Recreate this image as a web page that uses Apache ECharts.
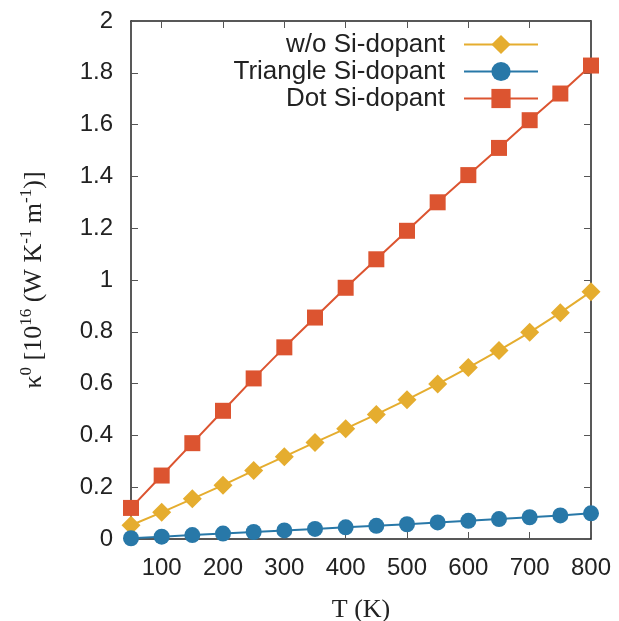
<!DOCTYPE html>
<html>
<head>
<meta charset="utf-8">
<script src="https://cdn.jsdelivr.net/npm/echarts@6/dist/echarts.min.js"></script>
<style>
  html, body { margin: 0; padding: 0; background: #fff; }
  #chart { width: 619px; height: 621px; }
</style>
</head>
<body>
<div id="chart"></div>
<script>
// temperatures (K)
const temps = [50, 100, 150, 200, 250, 300, 350, 400, 450, 500, 550, 600, 650, 700, 750, 800]
// kappa0, 10^16 W K^-1 m^-1
const woSi = [0.053, 0.103, 0.155, 0.208, 0.264, 0.318, 0.373, 0.426, 0.481, 0.538, 0.598, 0.662, 0.728, 0.798, 0.874, 0.955]
const triangleSi = [0.003, 0.009, 0.015, 0.021, 0.027, 0.033, 0.039, 0.045, 0.051, 0.057, 0.064, 0.070, 0.077, 0.084, 0.091, 0.099]
const dotSi = [0.12, 0.245, 0.37, 0.495, 0.62, 0.74, 0.855, 0.97, 1.08, 1.19, 1.3, 1.405, 1.51, 1.617, 1.72, 1.828]
const xTicks = [100, 200, 300, 400, 500, 600, 700, 800]

const sans = 'Liberation Sans'
const serif = 'Liberation Serif'
const ink = '#222'

const chart = echarts.init(document.getElementById('chart'))

function pairs (ys) {
    return temps.map((t, i) => [t, ys[i]])
}

const tickStyle = { show: true, inside: true, length: 7, lineStyle: { color: '#555', width: 1 } }

chart.setOption({
    backgroundColor: '#fff',
    animation: false,
    grid: { left: 131, right: 28, top: 21, bottom: 82, outerBoundsMode: 'none' },
    legend: {
        orient: 'vertical',
        right: 75,
        top: 26,
        align: 'right',
        itemWidth: 74,
        itemHeight: 24,
        itemGap: 0,
        textStyle: { fontFamily: sans, fontSize: 26, color: ink, padding: [0, 14, 0, 0], lineHeight: 27 },
        data: ['w/o Si-dopant', 'Triangle Si-dopant', 'Dot Si-dopant']
    },
    xAxis: [
        {
            type: 'value',
            min: 50,
            max: 800,
            position: 'bottom',
            name: 'T (K)',
            nameLocation: 'middle',
            nameGap: 58,
            nameTextStyle: { fontFamily: serif, fontSize: 26, color: ink },
            axisLine: { show: true, onZero: false, lineStyle: { color: ink, width: 1.5 } },
            axisTick: Object.assign({ customValues: xTicks }, tickStyle),
            axisLabel: { customValues: xTicks, margin: 17, fontFamily: sans, fontSize: 24, color: ink },
            splitLine: { show: false }
        },
        {
            type: 'value',
            min: 50,
            max: 800,
            position: 'top',
            axisLine: { show: true, onZero: false, lineStyle: { color: ink, width: 1.5 } },
            axisTick: Object.assign({ customValues: xTicks }, tickStyle),
            axisLabel: { show: false },
            splitLine: { show: false }
        }
    ],
    yAxis: [
        {
            type: 'value',
            min: 0,
            max: 2,
            interval: 0.2,
            position: 'left',
            name: '{a|κ}{s|0}{a| [10}{s|16}{a| (W K}{s|-1}{a| m}{s|-1}{a|)]}',
            nameLocation: 'middle',
            nameRotate: 90,
            nameGap: 84,
            nameTextStyle: {
                color: ink,
                rich: {
                    a: { fontFamily: serif, fontSize: 26, color: ink, verticalAlign: 'bottom', lineHeight: 29 },
                    s: { fontFamily: serif, fontSize: 17, color: ink, verticalAlign: 'top', lineHeight: 29 }
                }
            },
            axisLine: { show: true, onZero: false, lineStyle: { color: ink, width: 1.5 } },
            axisTick: tickStyle,
            axisLabel: { margin: 18, fontFamily: sans, fontSize: 24, color: ink },
            splitLine: { show: false }
        },
        {
            type: 'value',
            min: 0,
            max: 2,
            interval: 0.2,
            position: 'right',
            axisLine: { show: true, onZero: false, lineStyle: { color: ink, width: 1.5 } },
            axisTick: tickStyle,
            axisLabel: { show: false },
            splitLine: { show: false }
        }
    ],
    series: [
        {
            name: 'w/o Si-dopant',
            type: 'line',
            data: pairs(woSi),
            symbol: 'diamond',
            symbolSize: 19,
            color: '#e5ad2f',
            lineStyle: { width: 2 },
            clip: false
        },
        {
            name: 'Triangle Si-dopant',
            type: 'line',
            data: pairs(triangleSi),
            symbol: 'circle',
            symbolSize: 16,
            color: '#2878a8',
            lineStyle: { width: 2 },
            clip: false
        },
        {
            name: 'Dot Si-dopant',
            type: 'line',
            data: pairs(dotSi),
            symbol: 'rect',
            symbolSize: 16,
            color: '#dc5430',
            lineStyle: { width: 2 },
            clip: false
        }
    ]
})
</script>
</body>
</html>
